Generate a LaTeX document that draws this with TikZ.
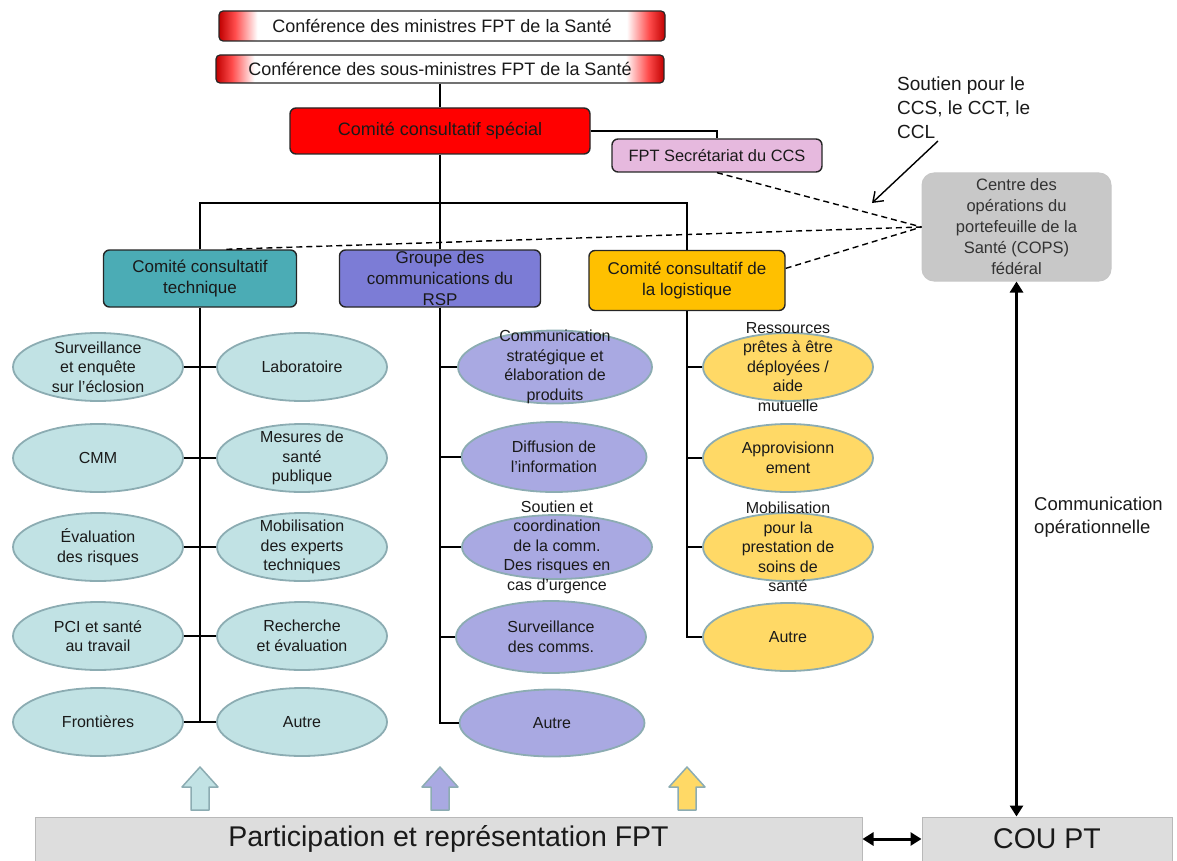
\documentclass[tikz,border=0pt]{standalone}
\usepackage{fontspec}
\setmainfont{Liberation Sans}
\usetikzlibrary{arrows.meta, shapes.geometric}

\definecolor{txt}{RGB}{26,26,26}
\definecolor{edgered}{RGB}{192,0,0}
\definecolor{ccsred}{RGB}{255,0,0}
\definecolor{secpink}{RGB}{230,185,222}
\definecolor{cctteal}{RGB}{75,172,181}
\definecolor{gcrblue}{RGB}{124,124,214}
\definecolor{cclgold}{RGB}{255,192,0}
\definecolor{copsgray}{RGB}{200,200,200}
\definecolor{barfill}{RGB}{221,221,221}
\definecolor{barline}{RGB}{185,185,185}
\definecolor{ellline}{RGB}{140,172,178}
\definecolor{tealell}{RGB}{193,226,228}
\definecolor{blueell}{RGB}{169,169,226}
\definecolor{goldell}{RGB}{255,217,102}

\pgfdeclarehorizontalshading{redends}{100bp}{color(0bp)=(edgered); color(25bp)=(edgered); color(26.8bp)=(red!70!white); color(29.3bp)=(white); color(70.7bp)=(white); color(73.2bp)=(red!70!white); color(75bp)=(edgered); color(100bp)=(edgered)}

\tikzset{
    topbox/.style={draw=black!85, line width=1.2pt, rounded corners=4pt, shading=redends, inner sep=0pt, font=\fontsize{18}{22}\selectfont},
    hbox/.style={draw=black!85, line width=1.4pt, rounded corners=6pt, inner sep=0pt, align=center, font=\fontsize{17}{21}\selectfont},
    ell/.style={ellipse, draw=ellline, line width=1.8pt, minimum width=170pt, minimum height=68pt, inner sep=0pt},
    etxt/.style={align=center, text=txt, font=\fontsize{16}{19.5}\selectfont},
    tree/.style={line width=1.4pt, black},
    dashline/.style={line width=1.4pt, dash pattern=on 6pt off 4pt},
    bar/.style={fill=barfill, draw=barline, line width=1pt, inner sep=0pt, font=\fontsize{28.5}{34}\selectfont},
    bigarrow/.style={line width=3pt, {Triangle[length=11pt,width=13pt]}-{Triangle[length=11pt,width=13pt]}}
}

\begin{document}
\begin{tikzpicture}[x=1pt, y=-1pt, text=txt, font=\fontsize{16}{20}\selectfont]

    \useasboundingbox (0,0) rectangle (1177,861);

    % conferences and CCS
    \node[topbox, minimum width=446pt, minimum height=30pt] (cmin) at (442,26) {Conférence des ministres FPT de la Santé};
    \node[topbox, minimum width=448pt, minimum height=28pt] (csmin) at (440,69) {Conférence des sous-ministres FPT de la Santé};
    \node[hbox, fill=ccsred, minimum width=300pt, minimum height=46pt, font=\fontsize{18}{22}\selectfont] (ccs) at (440,131) {Comité consultatif spécial};
    \node[hbox, fill=secpink, minimum width=210pt, minimum height=33pt, font=\fontsize{16.4}{20}\selectfont] (sec) at (717,155.5) {FPT Secrétariat du CCS};

    % the three committees
    \node[hbox, fill=cctteal, minimum width=193pt, minimum height=57pt] (cct) at (200,278.5) {Comité consultatif\\technique};
    \node[hbox, fill=gcrblue, minimum width=201pt, minimum height=57pt] (gcr) at (440,278.5) {Groupe des\\communications du\\RSP};
    \node[hbox, fill=cclgold, minimum width=196pt, minimum height=60pt] (ccl) at (687,280.5) {Comité consultatif de\\la logistique};

    \node[fill=copsgray, draw=black!22, line width=1pt, rounded corners=12pt, minimum width=189pt, minimum height=108pt, inner sep=0pt, align=center, text=black!80, font=\fontsize{16.5}{21}\selectfont] (cops) at (1016.5,227) {Centre des\\opérations du\\portefeuille de la\\Santé (COPS)\\fédéral};

    \draw[tree] (csmin.south) -- (ccs.north);
    \draw[tree] (ccs.east) -| (sec.north);
    \coordinate (split) at (440,203);
    \draw[tree] (ccs.south) -- (gcr.north);
    \draw[tree] (cct.north) |- (split) -| (ccl.north);

    % dashed links to the COPS
    \draw[dashline] (sec.south) -- (cops.west);
    \draw[dashline] (cct.48) -- (cops.west);
    \draw[dashline] (ccl.7) -- (cops.west);

    \node[anchor=west, align=left, inner sep=0pt, font=\fontsize{19}{24}\selectfont] (stxt) at (897,108) {Soutien pour le\\CCS, le CCT, le\\CCL};
    \coordinate (suptail) at (938,141);
    \coordinate (suphead) at (872,203);
    \draw[line width=1.4pt, -{Straight Barb[length=9pt,width=13pt]}] (suptail) -- (suphead);

    % CCT ellipses
    \node[ell, fill=tealell, label={[etxt]center:{Surveillance\\et enquête\\sur l’éclosion}}] (surv) at (98,367) {};
    \node[ell, fill=tealell, label={[etxt]center:Laboratoire}] (labo) at (302,367) {};
    \node[ell, fill=tealell, label={[etxt]center:CMM}] (cmm) at (98,458) {};
    \node[ell, fill=tealell, label={[etxt]center:{Mesures de\\santé\\publique}}] (mesures) at (302,458) {};
    \node[ell, fill=tealell, label={[etxt]center:{Évaluation\\des risques}}] (evalr) at (98,547) {};
    \node[ell, fill=tealell, label={[etxt]center:{Mobilisation\\des experts\\techniques}}] (mobex) at (302,547) {};
    \node[ell, fill=tealell, label={[etxt]center:{PCI et santé\\au travail}}] (pci) at (98,636) {};
    \node[ell, fill=tealell, label={[etxt]center:{Recherche\\et évaluation}}] (rech) at (302,636) {};
    \node[ell, fill=tealell, label={[etxt]center:Frontières}] (front) at (98,722) {};
    \node[ell, fill=tealell, label={[etxt]center:Autre}] (tautre) at (302,722) {};

    \draw[tree] (cct.south) -- (cct.south |- front.east);
    \draw[tree] (surv.east) -- (labo.west);
    \draw[tree] (cmm.east) -- (mesures.west);
    \draw[tree] (evalr.east) -- (mobex.west);
    \draw[tree] (pci.east) -- (rech.west);
    \draw[tree] (front.east) -- (tautre.west);

    % GCR ellipses
    \node[ell, fill=blueell, minimum width=194pt, minimum height=73pt, label={[etxt]center:{Communication\\stratégique et\\élaboration de\\produits}}] (gstrat) at (555,367) {};
    \node[ell, fill=blueell, minimum width=185pt, minimum height=70pt, label={[etxt]center:{Diffusion de\\l’information}}] (gdiff) at (554,457) {};
    \node[ell, fill=blueell, minimum width=190pt, minimum height=64pt, label={[etxt]center:{Soutien et\\coordination\\de la comm.\\Des risques en\\cas d’urgence}}] (gsout) at (557,547) {};
    \node[ell, fill=blueell, minimum width=190pt, minimum height=72pt, label={[etxt]center:{Surveillance\\des comms.}}] (gsurv) at (551,637) {};
    \node[ell, fill=blueell, minimum width=185pt, minimum height=67pt, label={[etxt]center:Autre}] (gautre) at (552,723) {};

    \draw[tree] (gcr.south) |- (gautre.west);
    \draw[tree] (gstrat.west) -- (gstrat.west -| gcr.south);
    \draw[tree] (gdiff.west) -- (gdiff.west -| gcr.south);
    \draw[tree] (gsout.west) -- (gsout.west -| gcr.south);
    \draw[tree] (gsurv.west) -- (gsurv.west -| gcr.south);

    % CCL ellipses
    \node[ell, fill=goldell, label={[etxt]center:{Ressources\\prêtes à être\\déployées /\\aide\\mutuelle}}] (lres) at (788,367) {};
    \node[ell, fill=goldell, label={[etxt]center:{Approvisionn\\ement}}] (lappro) at (788,458) {};
    \node[ell, fill=goldell, label={[etxt]center:{Mobilisation\\pour la\\prestation de\\soins de\\santé}}] (lmob) at (788,547) {};
    \node[ell, fill=goldell, label={[etxt]center:Autre}] (lautre) at (788,637) {};

    \draw[tree] (ccl.south) |- (lautre.west);
    \draw[tree] (lres.west) -- (lres.west -| ccl.south);
    \draw[tree] (lappro.west) -- (lappro.west -| ccl.south);
    \draw[tree] (lmob.west) -- (lmob.west -| ccl.south);

    % block arrows up from the bar
    \foreach \x/\c in {200/tealell, 440/blueell, 687/goldell}
        \filldraw[fill=\c, draw=ellline, line width=1.5pt, line join=round] (\x-9,810) -- (\x-9,787) -- (\x-18,787) -- (\x,767) -- (\x+18,787) -- (\x+9,787) -- (\x+9,810) -- cycle;

    % bottom bar
    \node[bar, minimum width=827pt, minimum height=44pt] (fpt) at (448.5,839) {Participation et représentation FPT};
    \node[bar, minimum width=250pt, minimum height=44pt] (coupt) at (1047,839) {COU PT};

    \draw[bigarrow] (fpt.east) -- (coupt.west);
    \draw[bigarrow] (cops.south) -- (cops.south |- coupt.north);
    \node[anchor=west, align=left, inner sep=0pt, font=\fontsize{18.5}{23}\selectfont] (opcom) at (1034,517) {Communication\\opérationnelle};

\end{tikzpicture}
\end{document}
